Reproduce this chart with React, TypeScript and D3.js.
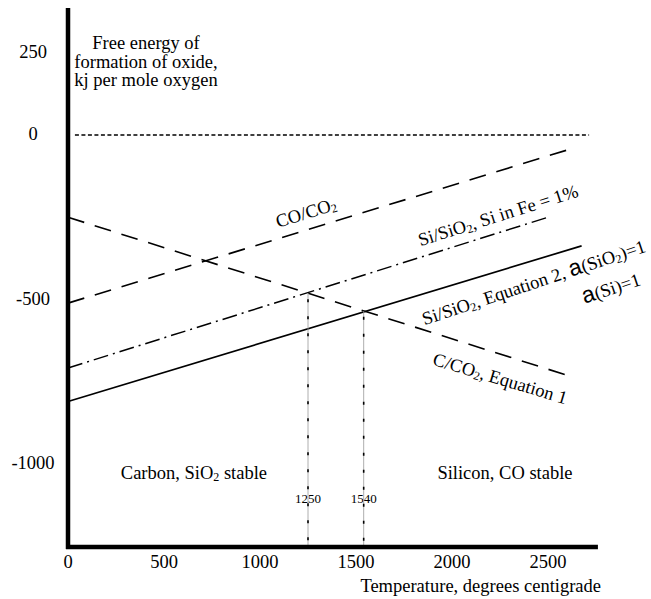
import * as d3 from "d3";

const W = 651;
const H = 599;

// end points, [temperature degC, free energy kJ per mole O2]
const CO_CO2 = [[0, -511], [2615, -43]];
const C_CO2 = [[0, -250], [2625, -735]];
const SI_FE1 = [[0, -708], [2500, -250]];
const SI_EQ2 = [[0, -810], [2675, -337]];
const ZERO_LINE = [[36, 0], [2714, 0]];

const X_TICKS = [0, 500, 1000, 1500, 2000, 2500];
const Y_TICKS = [250, 0, -500, -1000];
const MARKERS = [1250, 1540];
const T_END = 2760; // right end of temperature axis
const G_TOP = 386; // top of energy axis
const G_BOTTOM = -1252; // bottom of energy axis

const x = d3.scaleLinear().domain([0, 2500]).range([68, 548]);
const y = d3.scaleLinear().domain([0, -1000]).range([135, 464]);

const line = d3
  .line<number[]>()
  .x((d) => x(d[0]))
  .y((d) => y(d[1]));

const FONT = "'Liberation Serif', 'Times New Roman', serif";

// value of a straight series at temperature t
const at = (s: number[][], t: number) =>
  s[0][1] + ((s[1][1] - s[0][1]) * (t - s[0][0])) / (s[1][0] - s[0][0]);

const angle = (s: number[][]) =>
  (Math.atan2(y(s[1][1]) - y(s[0][1]), x(s[1][0]) - x(s[0][0])) * 180) / Math.PI;

function LineLabel({ s, t, off, rot = 0, children }: any) {
  const px = x(t);
  const py = y(at(s, t));
  return (
    <text
      transform={`translate(${px},${py}) rotate(${angle(s) + rot})`}
      y={off}
      dy="0.35em"
      textAnchor="middle"
    >
      {children}
    </text>
  );
}

const Sub = ({ children }: any) => (
  <tspan fontSize={12} dy={2}>
    {children}
  </tspan>
);
const Up = ({ children }: any) => <tspan dy={-2}>{children}</tspan>;

export default function App() {
  return (
    <svg
      width={W}
      height={H}
      style={{ position: "absolute", left: 0, top: 0, background: "#fff" }}
      fontFamily={FONT}
      fontSize={18.5}
      fill="#000"
    >
      {/* zero reference */}
      <path d={line(ZERO_LINE) as string} fill="none" stroke="#000" strokeWidth={1.3} strokeDasharray="4 2.5" />

      {/* series */}
      <path d={line(C_CO2) as string} fill="none" stroke="#000" strokeWidth={1.6} strokeDasharray="17 11" />
      <path d={line(CO_CO2) as string} fill="none" stroke="#000" strokeWidth={1.6} strokeDasharray="17 11" />
      <path d={line(SI_FE1) as string} fill="none" stroke="#000" strokeWidth={1.5} strokeDasharray="15 5 2 5" />
      <path d={line(SI_EQ2) as string} fill="none" stroke="#000" strokeWidth={1.7} />

      {/* temperature markers */}
      {MARKERS.map((t) => (
        <g key={t}>
          <text x={x(t)} y={y(-1119)} textAnchor="middle" fontSize={13}>
            {t}
          </text>
          <line x1={x(t)} x2={x(t)} y1={y(at(C_CO2, t))} y2={y(G_BOTTOM)} stroke="#999" strokeWidth={0.8} />
          <line
            x1={x(t)}
            x2={x(t)}
            y1={y(at(C_CO2, t)) + 6}
            y2={y(G_BOTTOM)}
            stroke="#000"
            strokeWidth={1.6}
            strokeDasharray="3 14"
          />
        </g>
      ))}

      {/* axes */}
      <line x1={x(0)} x2={x(0)} y1={y(G_TOP)} y2={y(G_BOTTOM) + 2} stroke="#000" strokeWidth={4.5} />
      <line x1={x(0) - 2} x2={x(T_END)} y1={y(G_BOTTOM)} y2={y(G_BOTTOM)} stroke="#000" strokeWidth={4.5} />

      {Y_TICKS.map((v) => (
        <text key={v} x={33} y={y(v) + 5} textAnchor="middle">
          {v}
        </text>
      ))}
      {X_TICKS.map((t) => (
        <text key={t} x={x(t)} y={568} textAnchor="middle">
          {t}
        </text>
      ))}

      <text x={601} y={592} textAnchor="end">
        Temperature, degrees centigrade
      </text>
      <text textAnchor="middle">
        <tspan x={146} y={49}>Free energy of</tspan>
        <tspan x={146} y={67.5}>formation of oxide,</tspan>
        <tspan x={146} y={86}>kj per mole oxygen</tspan>
      </text>

      {/* line labels */}
      <LineLabel s={CO_CO2} t={1265} off={-17}>
        CO/CO<Sub>2</Sub>
      </LineLabel>
      <LineLabel s={SI_FE1} t={2266} off={-17}>
        Si/SiO<Sub>2</Sub>
        <Up>, Si in Fe = 1%</Up>
      </LineLabel>
      <LineLabel s={SI_EQ2} t={2391} off={21} rot={-1.5}>
        Si/SiO<Sub>2</Sub>
        <Up>, Equation 2, </Up>
        <tspan fontFamily="'Liberation Sans', Arial, sans-serif" fontSize={23}>
          a
        </tspan>
        (SiO<Sub>2</Sub>
        <Up>)=1</Up>
      </LineLabel>
      <LineLabel s={SI_EQ2} t={2748} off={49} rot={-1.5}>
        <tspan fontFamily="'Liberation Sans', Arial, sans-serif" fontSize={23}>
          a
        </tspan>
        (Si)=1
      </LineLabel>
      <LineLabel s={C_CO2} t={2286} off={23} rot={-1}>
        C/CO<Sub>2</Sub>
        <Up>, Equation 1</Up>
      </LineLabel>

      {/* regions */}
      <text x={x(656)} y={y(-1027)} dy="0.35em" textAnchor="middle">
        Carbon, SiO<Sub>2</Sub>
        <Up> stable</Up>
      </text>
      <text x={x(2276)} y={y(-1027)} dy="0.35em" textAnchor="middle">
        Silicon, CO stable
      </text>
    </svg>
  );
}
